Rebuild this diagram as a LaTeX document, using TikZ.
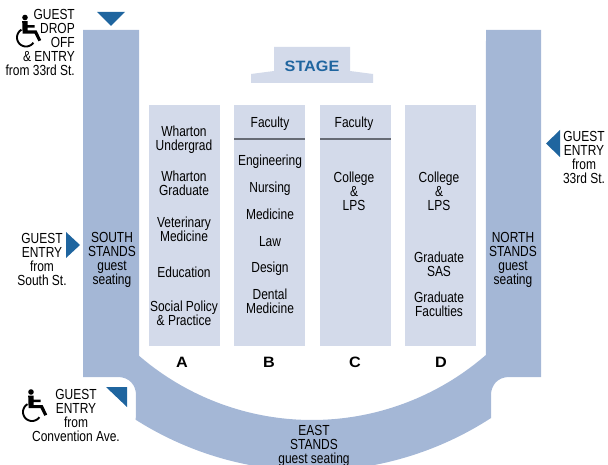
\documentclass[tikz,border=0pt]{standalone}
\usepackage{fontspec}
\setmainfont[FakeStretch=0.82]{Liberation Sans}
\newfontfamily\boldwide[FakeStretch=1.08]{Liberation Sans}
\definecolor{stand}{HTML}{A4B7D6}
\definecolor{panel}{HTML}{D3DAEA}
\definecolor{marker}{HTML}{1F659F}
\definecolor{rule}{HTML}{666B75}
\tikzset{
  standfill/.style={fill=stand,draw=none},
  panelbox/.style={fill=panel,draw=none},
  markerfill/.style={fill=marker,draw=none},
  facultyrule/.style={draw=rule,line width=1.4pt},
  lbl/.style={inner sep=0pt,align=center,yshift=-1.2pt,font=\fontsize{14.6}{14}\selectfont,text=black},
  rlbl/.style={lbl,align=right,anchor=east},
  letter/.style={inner sep=0pt,font=\boldwide\bfseries\fontsize{15}{15}\selectfont},
}
\newcommand{\wheelchair}[2]{%
  \begin{scope}[shift={(#1,#2)}]
    \fill (0,0) circle (2.8);
    \draw[line width=1.9pt] plot[domain=35:240,samples=40,smooth] ({1+9*cos(\x)},{20+9*sin(\x)});
    \fill (-2.8,3.6) -- (2.6,3.6) -- (2.6,7.6) -- (9.5,7.6) -- (9.5,10.2) -- (2.6,10.2) -- (2.6,13) -- (11.6,13) -- (16.2,22.6) -- (13.4,23.8) -- (9.6,16.2) -- (-2.4,16.2) -- cycle;
  \end{scope}}
\begin{document}
\begin{tikzpicture}[x=1pt,y=-1pt]
\useasboundingbox (0,0) rectangle (608,465);
\clip (0,0) rectangle (608,465);
% stands
\fill[standfill] (83,30) -- (139,30) -- (139,356)
  -- plot[domain=-40.8:41,samples=80] ({312+265*sin(\x)},{155+265*cos(\x)})
  -- (486,30) -- (541,30) -- (541,377) -- (509,377)
  .. controls (498,377) and (491,385) .. (491,395) -- (491,418)
  -- plot[domain=32.9:-32.4,samples=80] ({312+329*sin(\x)},{142+329*cos(\x)})
  -- (136,395) .. controls (136,385) and (129,377) .. (118,377) -- (83,377) -- cycle;
% panels
\foreach \xa in {149,234,320,405}{
  \fill[panelbox] (\xa,105) rectangle ++(71,241);
}
\draw[facultyrule] (234,139) -- (305,139);
\draw[facultyrule] (320,139) -- (391,139);
% stage
\fill[panelbox] (274,47) -- (350,47) -- (350,71) -- (373,74) -- (373,83) -- (251,83) -- (251,74) -- (274,71) -- cycle;
\node[inner sep=0pt,text=marker,font=\boldwide\bfseries\fontsize{15}{15}\selectfont] (stage) at (312,66) {STAGE};
% markers
\fill[markerfill] (97,12) -- (125,12) -- (111,26) -- cycle;
\fill[markerfill] (66,232) -- (80,245) -- (66,258) -- cycle;
\fill[markerfill] (546,143.5) -- (560,130) -- (560,157) -- cycle;
\fill[markerfill] (106,387) -- (127,387) -- (127,407) -- cycle;
% wheelchairs
\wheelchair{25}{17.5}
\wheelchair{31}{392}
% panel A
\node[lbl] (a1) at (184,139) {Wharton\\Undergrad};
\node[lbl] (a2) at (184,182) {Wharton\\Graduate};
\node[lbl] (a3) at (184,228) {Veterinary\\Medicine};
\node[lbl] (a4) at (184,271) {Education};
\node[lbl] (a5) at (184,312) {Social Policy\\\& Practice};
% panel B
\node[lbl] (bf) at (270,123) {Faculty};
\node[lbl] (b1) at (270,160.5) {Engineering};
\node[lbl] (b2) at (270,187.5) {Nursing};
\node[lbl] (b3) at (270,213) {Medicine};
\node[lbl] (b4) at (270,240) {Law};
\node[lbl] (b5) at (270,267.5) {Design};
\node[lbl] (b6) at (270,300) {Dental\\Medicine};
% panel C
\node[lbl] (cf) at (354,123) {Faculty};
\node[lbl] (c1) at (354,190) {College\\\&\\LPS};
% panel D
\node[lbl] (d1) at (439,190) {College\\\&\\LPS};
\node[lbl] (d2) at (439,263) {Graduate\\SAS};
\node[lbl] (d3) at (439,303) {Graduate\\Faculties};
% letters
\node[letter] (la) at (182,362) {A};
\node[letter] (lb) at (269,362) {B};
\node[letter] (lc) at (355,362) {C};
\node[letter] (ld) at (441,362) {D};
% stands labels
\node[lbl] (south) at (112,259) {SOUTH\\STANDS\\guest\\seating};
\node[lbl] (north) at (513,259) {NORTH\\STANDS\\guest\\seating};
\node[lbl] (east) at (314,444.5) {EAST\\STANDS\\guest seating};
% entries
\node[rlbl] (g1) at (75,41.7) {GUEST\\DROP\\OFF\\\& ENTRY\\from 33rd St.};
\node[lbl,align=center] (g2) at (42,258) {GUEST\\ENTRY\\from\\South St.};
\node[lbl] (g3) at (584,156) {GUEST\\ENTRY\\from\\33rd St.};
\node[lbl] (g4) at (76,414.5) {GUEST\\ENTRY\\from\\Convention Ave.};
\end{tikzpicture}
\end{document}
